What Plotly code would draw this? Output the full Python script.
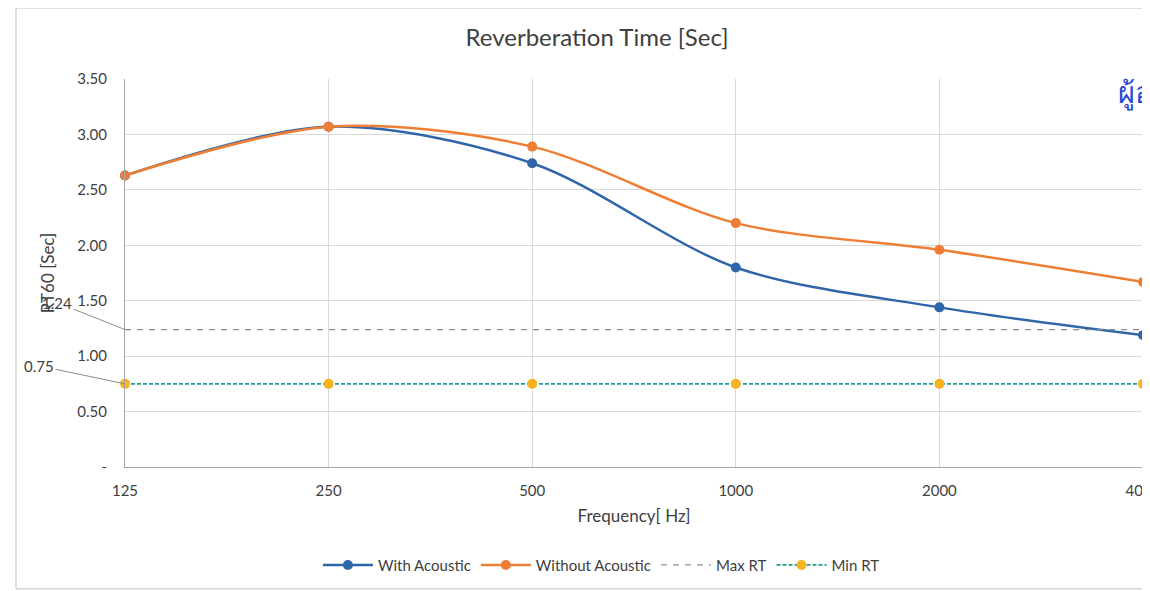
import plotly.graph_objects as go

# # Data
freq = ['125', '250', '500', '1000', '2000', '4000']
with_acoustic = [2.63, 3.07, 2.74, 1.80, 1.44, 1.19]
without_acoustic = [2.63, 3.07, 2.89, 2.20, 1.96, 1.67]
max_rt = [1.24, 1.24, 1.24, 1.24, 1.24, 1.24]
min_rt = [0.75, 0.75, 0.75, 0.75, 0.75, 0.75]

y_ticks = [0, 0.5, 1.0, 1.5, 2.0, 2.5, 3.0, 3.5]
y_ticktext = ['-', '0.50', '1.00', '1.50', '2.00', '2.50', '3.00', '3.50']

font_family = 'Lato, "Open Sans", sans-serif'

fig = go.Figure()

fig.add_trace(go.Scatter(
    x=freq, y=with_acoustic, name='With Acoustic',
    mode='lines+markers', line=dict(color='#2F66AA', width=2.5, shape='spline', smoothing=0.9),
    marker=dict(size=10, color='#2F66AA'), cliponaxis=False
))
fig.add_trace(go.Scatter(
    x=freq, y=without_acoustic, name='Without Acoustic',
    mode='lines+markers', line=dict(color='#EE7E33', width=2.5, shape='spline', smoothing=0.9),
    marker=dict(size=10, color='#EE7E33'), cliponaxis=False
))
fig.add_trace(go.Scatter(
    x=freq, y=max_rt, name='Max RT',
    mode='lines', line=dict(color='#8C8C8C', width=1.3, dash='6px,6px'),
    cliponaxis=False
))
fig.add_trace(go.Scatter(
    x=freq, y=min_rt, name='Min RT',
    mode='lines+markers', line=dict(color='#1E9C96', width=1.8, dash='4px,2px'),
    marker=dict(size=10, color='#F8B322'), cliponaxis=False
))

# data labels with leader lines (Excel style)
fig.add_annotation(x=0, xref='paper', y=max_rt[0], yref='y', text='1.24', showarrow=True, arrowhead=0,
                   arrowcolor='#8C8C8C', arrowwidth=1, ax=-68, ay=-27,
                   font=dict(size=15, color='#404040', family=font_family))
fig.add_annotation(x=0, xref='paper', y=min_rt[0], yref='y', text='0.75', showarrow=True, arrowhead=0,
                   arrowcolor='#8C8C8C', arrowwidth=1, ax=-86, ay=-18,
                   font=dict(size=15, color='#404040', family=font_family))

# blue handwritten stamp at the top right of the scan
fig.add_annotation(x=1.0, y=1.0, xref='paper', yref='paper', text='ผู้อ',
                   showarrow=False, xanchor='left', yanchor='middle', xshift=-27, yshift=-12,
                   font=dict(size=29, color='#2747D8', family='"Noto Sans", sans-serif'))

# chart border
fig.add_shape(type='rect', xref='paper', yref='paper', x0=-0.1071, x1=1.05, y0=-0.314, y1=1.183,
              line=dict(color='#BFBFBF', width=1))

fig.update_layout(
    width=1142, height=583,
    margin=dict(l=117, r=7, t=71, b=124),
    paper_bgcolor='white', plot_bgcolor='white',
    font=dict(family=font_family, size=15, color='#404040'),
    title=dict(text='Reverberation Time [Sec]', x=0.4637, xref='paper', xanchor='center',
               y=0.9485, yanchor='middle', font=dict(size=24, color='#404040')),
    showlegend=True,
    legend=dict(orientation='h', x=0.468, xanchor='center', y=-0.253, yanchor='middle',
                font=dict(size=15), itemwidth=50),
)
fig.update_xaxes(
    type='category', range=[0, 5], showgrid=True, gridcolor='#D9D9D9',
    showline=True, linecolor='#A6A6A6', ticks='', automargin=False,
    ticklabelstandoff=10, ticklabeloverflow='allow',
    title=dict(text='Frequency[ Hz]', standoff=12, font=dict(size=17)),
    tickfont=dict(size=15), zeroline=False
)
fig.update_yaxes(
    range=[0, 3.5], tickvals=y_ticks, ticktext=y_ticktext,
    showgrid=True, gridcolor='#D9D9D9', showline=True, linecolor='#A6A6A6',
    ticks='', zeroline=False, automargin=False, ticklabelstandoff=14,
    title=dict(text='RT60 [Sec]', standoff=18, font=dict(size=17)),
    tickfont=dict(size=15)
)

fig.write_html('out.html')
